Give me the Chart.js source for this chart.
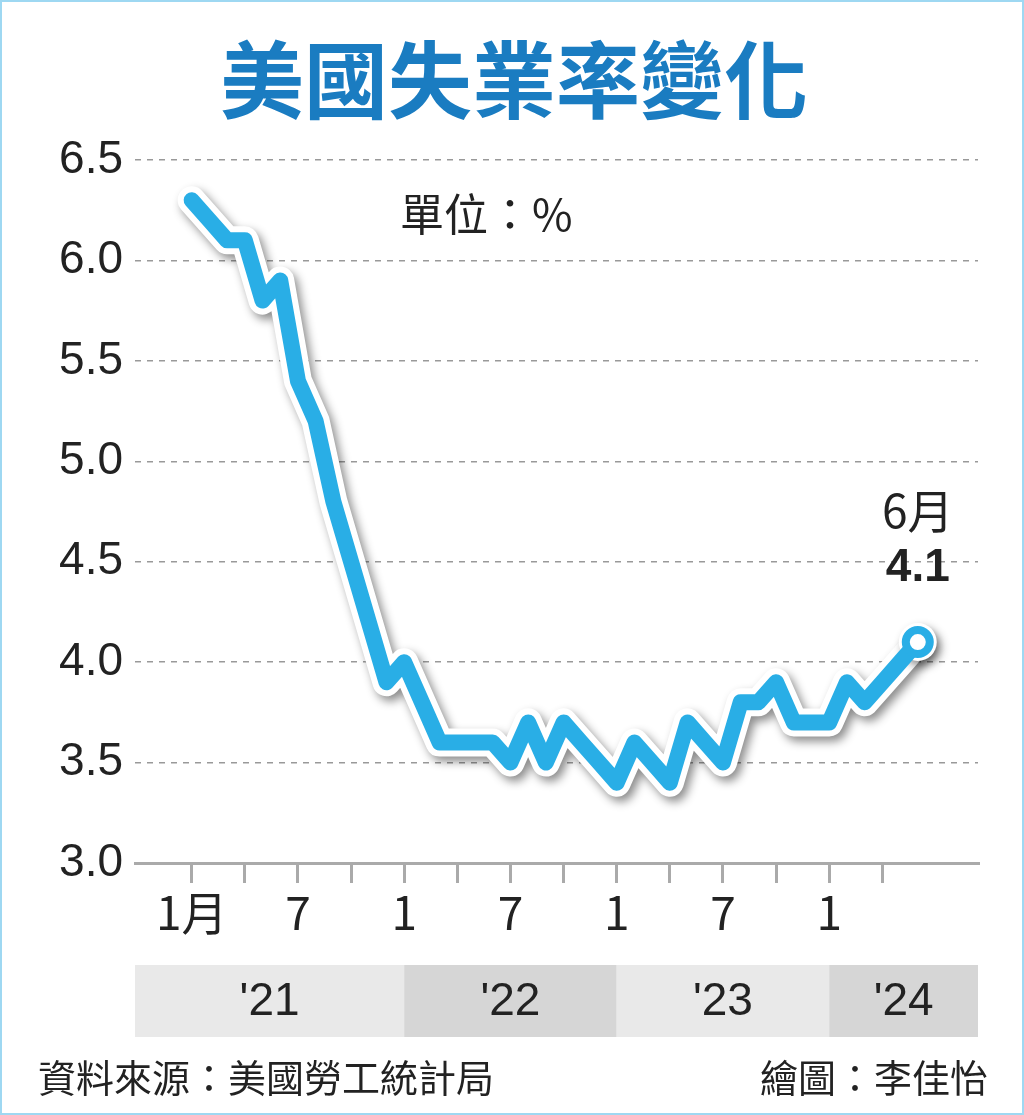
<!DOCTYPE html>
<html><head><meta charset="utf-8">
<script src="https://cdn.jsdelivr.net/npm/chart.js@4/dist/chart.umd.min.js"></script>
<style>html,body{margin:0;padding:0;background:#fff}#wrap{width:1024px;height:1115px;position:relative;box-sizing:border-box;border:2px solid #9ed8f2}canvas{display:block}</style>
</head><body><div id="wrap"><canvas id="c" width="1020" height="1111"></canvas></div>
<script>
const months = ['2021-01','2021-02','2021-03','2021-04','2021-05','2021-06','2021-07','2021-08','2021-09','2021-10','2021-11','2021-12','2022-01','2022-02','2022-03','2022-04','2022-05','2022-06','2022-07','2022-08','2022-09','2022-10','2022-11','2022-12','2023-01','2023-02','2023-03','2023-04','2023-05','2023-06','2023-07','2023-08','2023-09','2023-10','2023-11','2023-12','2024-01','2024-02','2024-03','2024-04','2024-05','2024-06'];
const rates = [6.3,6.2,6.1,6.1,5.8,5.9,5.4,5.2,4.8,4.5,4.2,3.9,4.0,3.8,3.6,3.6,3.6,3.6,3.5,3.7,3.5,3.7,3.6,3.5,3.4,3.6,3.5,3.4,3.7,3.6,3.5,3.8,3.8,3.9,3.7,3.7,3.7,3.9,3.8,3.9,4.0,4.1];
const yearLabels = ["'21","'22","'23","'24"];
const yTicks = [3.0,3.5,4.0,4.5,5.0,5.5,6.0,6.5];
const CJK = '"Noto Sans CJK TC","Noto Sans",sans-serif';
const LAT = '"Liberation Sans","Noto Sans",sans-serif';
const pts = rates.map((v,i)=>({x:i,y:v}));
const last = rates.length-1;
const deco = {
  id:'deco',
  beforeDatasetDraw(chart,args){ if(args.index===0){const c=chart.ctx;c.save();c.shadowColor='rgba(0,0,0,0.45)';c.shadowBlur=10;c.shadowOffsetX=4;c.shadowOffsetY=5;} },
  afterDatasetDraw(chart,args){ if(args.index===0) chart.ctx.restore(); },
  afterDraw(chart){
    const c=chart.ctx, x=chart.scales.x, y=chart.scales.y;
    c.save();
    c.fillStyle='#1a7cc1'; c.font='bold 84px '+CJK; c.textAlign='center'; c.textBaseline='middle';
    c.fillText('美國失業率變化',512,78);
    c.fillStyle='#222'; c.font='44px '+CJK; c.textAlign='left';
    c.fillText('單位：%',398,212);
    const px=x.getPixelForValue(last), py=y.getPixelForValue(rates[last]);
    c.textAlign='center'; c.font='46px '+CJK; c.fillText('6月',px,py-132);
    c.font='bold 46px '+LAT; c.fillText(rates[last].toFixed(1),px,py-74);
    const bounds=[x.left,x.getPixelForValue(12),x.getPixelForValue(24),x.getPixelForValue(36),x.right];
    const cols=['#e9e9e9','#d6d6d6','#e9e9e9','#d6d6d6'];
    for(let i=0;i<4;i++){
      c.fillStyle=cols[i]; c.fillRect(bounds[i],963,bounds[i+1]-bounds[i],72);
      c.fillStyle='#222'; c.font='46px '+LAT; c.fillText(yearLabels[i],(bounds[i]+bounds[i+1])/2,1000);
    }
    c.font='38px '+CJK; c.textAlign='left'; c.fillText('資料來源：美國勞工統計局',36,1076);
    c.textAlign='right'; c.fillText('繪圖：李佳怡',986,1076);
    c.restore();
  }
};
new Chart(document.getElementById('c'),{
  type:'line',
  data:{datasets:[
    {data:pts,borderColor:'#ffffff',borderWidth:28,order:2,pointRadius:rates.map((_,i)=>i===last?19:0),pointBackgroundColor:'#fff',pointBorderWidth:0,borderJoinStyle:'round',borderCapStyle:'round',tension:0},
    {data:pts,borderColor:'#29aee6',borderWidth:16,order:1,pointRadius:rates.map((_,i)=>i===last?12:0),pointBackgroundColor:'#fff',pointBorderColor:'#29aee6',pointBorderWidth:8,borderJoinStyle:'round',borderCapStyle:'round',tension:0}
  ]},
  options:{
    responsive:false,animation:false,
    layout:{padding:{left:0,top:158,right:44,bottom:170}},
    plugins:{legend:{display:false},tooltip:{enabled:false}},
    scales:{
      x:{type:'linear',min:-3.2,max:44.4,
        afterBuildTicks(s){s.ticks=[];for(let i=0;i<=39;i+=3)s.ticks.push({value:i});},
        afterFit(s){s.height=80;},
        ticks:{autoSkip:false,maxRotation:0,padding:2,color:'#222',font:{size:46,family:CJK},
          callback(v){return v%12===0?(v===0?'1月':'1'):(v%12===6?'7':'');}},
        grid:{drawOnChartArea:false,tickLength:20,color:'#aaa',lineWidth:3},
        border:{color:'#aaa',width:3}},
      y:{min:3,max:6.5,
        afterBuildTicks(s){s.ticks=yTicks.map(v=>({value:v}));},
        afterFit(s){s.width=133;},
        ticks:{padding:12,color:'#222',font:{size:46,family:LAT},callback(v){return v.toFixed(1);}},
        grid:{color:'#999',lineWidth:1.5,drawTicks:false},
        border:{display:false,dash:[6,6]}}
    }
  },
  plugins:[deco]
});
</script></body></html>
